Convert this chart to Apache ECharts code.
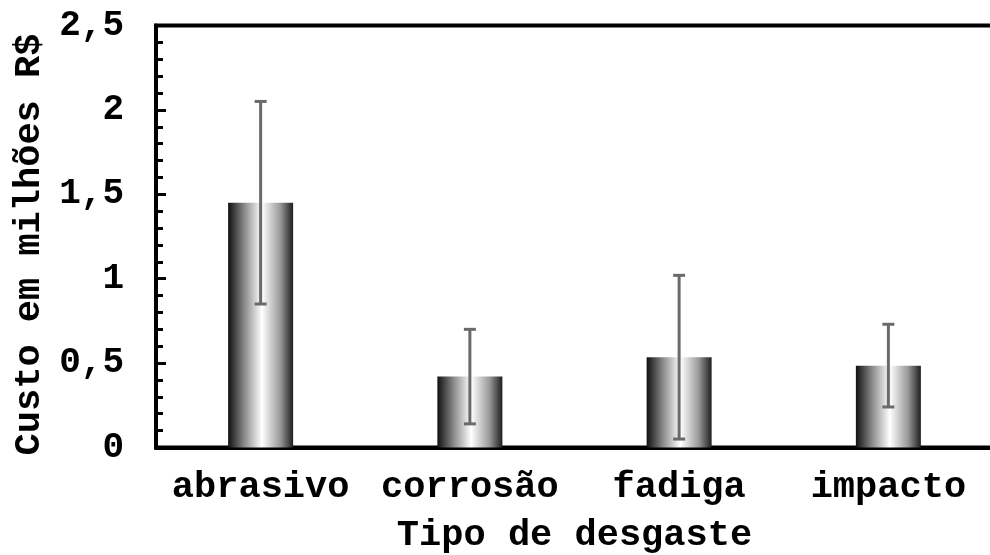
<!DOCTYPE html>
<html>
<head>
<meta charset="utf-8">
<script src="https://cdn.jsdelivr.net/npm/echarts@6/dist/echarts.min.js"></script>
<style>
  html, body { margin: 0; padding: 0; background: #fff; }
  #chart { width: 990px; height: 555px; }
</style>
</head>
<body>
<div id="chart"></div>
<script>
// Wear type categories and the mean cost for each (millions of R$)
const categories = ['abrasivo', 'corrosão', 'fadiga', 'impacto'];
const costs = [1.45, 0.42, 0.535, 0.485];
// Half-width of each error bar (same units)
const errors = [0.6, 0.28, 0.485, 0.245];
// Y-axis range and step
const yTicks = [0, 0.5, 1, 1.5, 2, 2.5];

const FONT = "'Courier New', 'Liberation Mono', monospace";

const errorData = costs.map((v, i) => [i, v - errors[i], v + errors[i]]);

const chart = echarts.init(document.getElementById('chart'), null, { renderer: 'canvas' });

chart.setOption({
  animation: false,
  backgroundColor: '#ffffff',
  grid: {
    left: 156,
    right: -3,
    top: 25.5,
    bottom: 107.5,
    containLabel: false,
    outerBoundsMode: 'none',
    show: true,
    borderColor: '#000',
    borderWidth: 4,
    backgroundColor: 'transparent'
  },
  xAxis: {
    type: 'category',
    data: categories,
    name: 'Tipo de desgaste',
    nameLocation: 'middle',
    nameGap: 70,
    nameTextStyle: { fontFamily: FONT, fontWeight: 'bold', fontSize: 37, color: '#000' },
    axisLine: { show: true, lineStyle: { color: '#000', width: 4 } },
    axisTick: { show: false },
    axisLabel: { interval: 0, fontFamily: FONT, fontWeight: 'bold', fontSize: 37, color: '#000', margin: 22 },
    splitLine: { show: false }
  },
  yAxis: {
    type: 'value',
    min: yTicks[0],
    max: yTicks[yTicks.length - 1],
    interval: 0.5,
    name: 'Custo em milhões R$',
    nameLocation: 'middle',
    nameGap: 108,
    nameRotate: 90,
    nameTextStyle: { fontFamily: FONT, fontWeight: 'bold', fontSize: 37, color: '#000', padding: [0, 16, 0, 0] },
    axisLine: { show: true, lineStyle: { color: '#000', width: 4 } },
    axisTick: { show: true, inside: true, length: 10, lineStyle: { color: '#000', width: 3 } },
    minorTick: { show: true, splitNumber: 5, length: 7, lineStyle: { color: '#000', width: 3 } },
    axisLabel: {
      fontFamily: FONT, fontWeight: 'bold', fontSize: 36, color: '#000', margin: 32,
      formatter: v => String(v).replace('.', ',')
    },
    splitLine: { show: false }
  },
  series: [
    {
      type: 'bar',
      data: costs,
      barWidth: 65,
      itemStyle: {
        color: new echarts.graphic.LinearGradient(0, 0, 1, 0, [
          { offset: 0, color: '#101010' },
          { offset: 0.25, color: '#8a8a8a' },
          { offset: 0.52, color: '#ffffff' },
          { offset: 0.8, color: '#9a9a9a' },
          { offset: 1, color: '#1e1e1e' }
        ])
      },
      z: 2
    },
    {
      type: 'custom',
      data: errorData,
      encode: { x: 0, y: [1, 2] },
      z: 3,
      renderItem: function (params, api) {
        const idx = api.value(0);
        const low = api.coord([idx, api.value(1)]);
        const high = api.coord([idx, api.value(2)]);
        const cap = 6;
        const style = { stroke: '#6a6a6a', lineWidth: 3 };
        return {
          type: 'group',
          children: [
            { type: 'line', shape: { x1: low[0], y1: low[1], x2: high[0], y2: high[1] }, style: style },
            { type: 'line', shape: { x1: high[0] - cap, y1: high[1], x2: high[0] + cap, y2: high[1] }, style: style },
            { type: 'line', shape: { x1: low[0] - cap, y1: low[1], x2: low[0] + cap, y2: low[1] }, style: style }
          ]
        };
      }
    }
  ]
});
</script>
</body>
</html>
